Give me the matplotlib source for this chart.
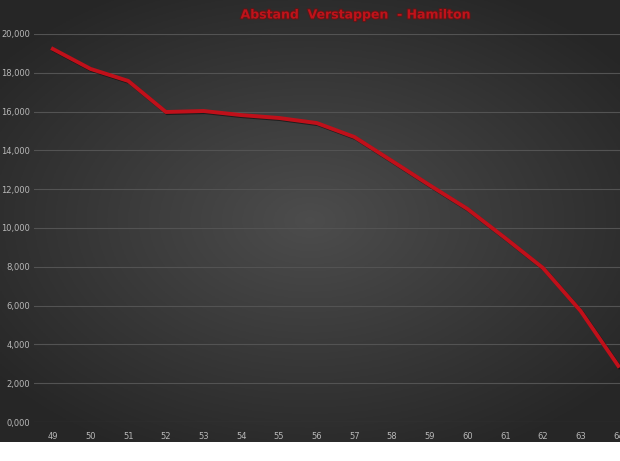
import numpy as np
import matplotlib
matplotlib.use("Agg")
import matplotlib.pyplot as plt
import matplotlib.patheffects as pe
from matplotlib.ticker import FuncFormatter

# --- data ---
laps = [49, 50, 51, 52, 53, 54, 55, 56, 57, 58, 59, 60, 61, 62, 63, 64]
gap = [19.23, 18.20, 17.58, 15.98, 16.03, 15.82, 15.67, 15.41,
       14.69, 13.45, 12.20, 10.98, 9.48, 7.94, 5.72, 2.89]
y_ticks = [0, 2, 4, 6, 8, 10, 12, 14, 16, 18, 20]
title = "Abstand  Verstappen  - Hamilton"

fig = plt.figure(figsize=(6.2, 4.61), dpi=100, facecolor="white")

# dark radial gradient background (stops above the white strip at the bottom)
dark_bottom = (461 - 442) / 461
bg = fig.add_axes([0, dark_bottom, 1, 1 - dark_bottom])
yy, xx = np.mgrid[-1:1:200j, -1:1:300j]
r = np.sqrt((xx / 1.2) ** 2 + (yy / 1.1) ** 2)
shade = np.clip(0.30 - 0.14 * r, 0.15, 0.30)
bg.imshow(np.dstack([shade, shade, shade]), aspect="auto", extent=[0, 1, 0, 1])
bg.set_axis_off()

# plot area
left = 34 / 620
bottom = (461 - 422) / 461
top = (461 - 34) / 461
ax = fig.add_axes([left, bottom, 1 - left, top - bottom])
ax.set_facecolor("none")
ax.set_xlim(48.5, 48.5 + (620 - 34) / 37.7)
ax.set_ylim(0, 20)

for s in ax.spines.values():
    s.set_visible(False)
ax.set_yticks(y_ticks)
ax.set_xticks(laps)
ax.yaxis.set_major_formatter(FuncFormatter(lambda v, p: f"{v:.3f}".replace(".", ",")))
ax.grid(axis="y", color="#535353", linewidth=0.8)
ax.set_axisbelow(True)
ax.tick_params(length=0, colors="#b8b8b8", labelsize=6)
ax.tick_params(axis="y", pad=3)
ax.tick_params(axis="x", pad=7)
for lab in ax.get_yticklabels() + ax.get_xticklabels():
    lab.set_fontfamily("Liberation Sans Narrow")

ax.plot(laps, gap, color="#c0101a", linewidth=2.8, solid_joinstyle="round",
        clip_on=False,
        path_effects=[pe.SimpleLineShadow(offset=(0.8, -0.8), shadow_color="black", alpha=0.5),
                      pe.Normal()])

fig.text(355 / 620, 1 - 15 / 461, title, color="#c0121a", fontsize=9,
         fontweight="bold", ha="center", va="center",
         path_effects=[pe.withStroke(linewidth=1.5, foreground="#5a1818")])

fig.savefig("out.png", dpi=100)
